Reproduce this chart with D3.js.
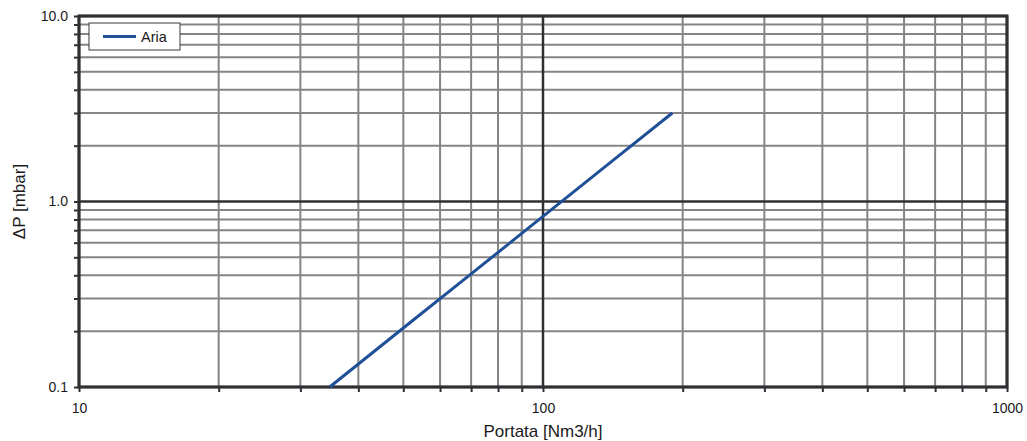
<!DOCTYPE html>
<html>
<head>
<meta charset="utf-8">
<script src="https://cdn.jsdelivr.net/npm/d3@7"></script>
<style>
  html, body { margin: 0; padding: 0; background: #fff; }
  text { font-family: "Liberation Sans", Arial, sans-serif; }
</style>
</head>
<body>
<svg id="chart" width="1027" height="441"></svg>
<script>
// Pressure drop curve for air
const seriesName = "Aria";
const flow = [34.7, 50, 70, 100, 140, 190];          // Nm3/h
const deltaP = [0.1, 0.208, 0.407, 0.831, 1.63, 3.0]; // mbar

const xDomain = [10, 1000];
const yDomain = [0.1, 10];
const xMajorTicks = [10, 100, 1000];
const yMajorTicks = [0.1, 1, 10];
const xLabel = "Portata [Nm3/h]";
const yLabel = "ΔP [mbar]";

const svg = d3.select("#chart");
const margin = { left: 79, right: 20, top: 16, bottom: 54 };
const W = 1027, H = 441;

const x = d3.scaleLog().domain(xDomain).range([margin.left, W - margin.right]);
const y = d3.scaleLog().domain(yDomain).range([H - margin.bottom, margin.top]);

const xAll = x.ticks();
const yAll = y.ticks();
const isMajor = v => Math.abs(Math.log10(v) - Math.round(Math.log10(v))) < 1e-9;

const grid = svg.append("g");
// minor grid
grid.selectAll("line.vx").data(xAll.filter(v => !isMajor(v))).join("line")
  .attr("x1", d => x(d)).attr("x2", d => x(d))
  .attr("y1", y.range()[1]).attr("y2", y.range()[0])
  .attr("stroke", "#858585").attr("stroke-width", 2);
grid.selectAll("line.hy").data(yAll.filter(v => !isMajor(v))).join("line")
  .attr("y1", d => y(d)).attr("y2", d => y(d))
  .attr("x1", x.range()[0]).attr("x2", x.range()[1])
  .attr("stroke", "#858585").attr("stroke-width", 2);
// major grid
grid.selectAll("line.mx").data(xMajorTicks).join("line")
  .attr("x1", d => x(d)).attr("x2", d => x(d))
  .attr("y1", y.range()[1]).attr("y2", y.range()[0])
  .attr("stroke", "#2e3033").attr("stroke-width", 2.5);
grid.selectAll("line.my").data(yMajorTicks).join("line")
  .attr("y1", d => y(d)).attr("y2", d => y(d))
  .attr("x1", x.range()[0]).attr("x2", x.range()[1])
  .attr("stroke", "#2e3033").attr("stroke-width", 2.5);

// frame
svg.append("rect")
  .attr("x", x.range()[0]).attr("y", y.range()[1])
  .attr("width", x.range()[1] - x.range()[0])
  .attr("height", y.range()[0] - y.range()[1])
  .attr("fill", "none").attr("stroke", "#2e3033").attr("stroke-width", 3);

// axes: small outward ticks at every decade step, labels at decades
const fmtY = d => d3.format(".1f")(d);
const xAxis = d3.axisBottom(x).tickValues(xAll).tickSize(5)
  .tickFormat(d => isMajor(d) ? String(d) : "");
const yAxis = d3.axisLeft(y).tickValues(yAll).tickSize(5)
  .tickFormat(d => isMajor(d) ? fmtY(d) : "");

const gx = svg.append("g").attr("transform", `translate(0,${y.range()[0]})`).call(xAxis);
const gy = svg.append("g").attr("transform", `translate(${x.range()[0]},0)`).call(yAxis);
[gx, gy].forEach(g => {
  g.select(".domain").remove();
  g.selectAll(".tick line").attr("stroke", "#2e3033").attr("stroke-width", 2);
  g.selectAll(".tick text").attr("fill", "#1a1a1a")
    .style("font-size", "14px").style("font-family", "'Liberation Sans', Arial, sans-serif");
});
gx.selectAll(".tick text").attr("dy", "1.25em");
gy.selectAll(".tick text").attr("x", -11);

// axis titles
svg.append("text")
  .attr("x", (x.range()[0] + x.range()[1]) / 2).attr("y", 437)
  .attr("text-anchor", "middle").attr("fill", "#1a1a1a").style("font-size", "17px")
  .text(xLabel);
svg.append("text")
  .attr("transform", `translate(25,${(y.range()[0] + y.range()[1]) / 2}) rotate(-90)`)
  .attr("text-anchor", "middle").attr("fill", "#1a1a1a").style("font-size", "17px")
  .text(yLabel);

// series
const pts = flow.map((f, i) => [f, deltaP[i]]);
svg.append("path")
  .datum(pts)
  .attr("d", d3.line().x(d => x(d[0])).y(d => y(d[1])))
  .attr("fill", "none").attr("stroke", "#1f4f96").attr("stroke-width", 3);

// legend
const lg = svg.append("g").attr("transform", "translate(89,23)");
lg.append("rect").attr("width", 91).attr("height", 27)
  .attr("fill", "#fff").attr("stroke", "#3a3a3a").attr("stroke-width", 1);
lg.append("line").attr("x1", 14).attr("x2", 47).attr("y1", 13.5).attr("y2", 13.5)
  .attr("stroke", "#1f4f96").attr("stroke-width", 3);
lg.append("text").attr("x", 52).attr("y", 19).attr("fill", "#1a1a1a")
  .style("font-size", "14.5px").text(seriesName);
</script>
</body>
</html>
